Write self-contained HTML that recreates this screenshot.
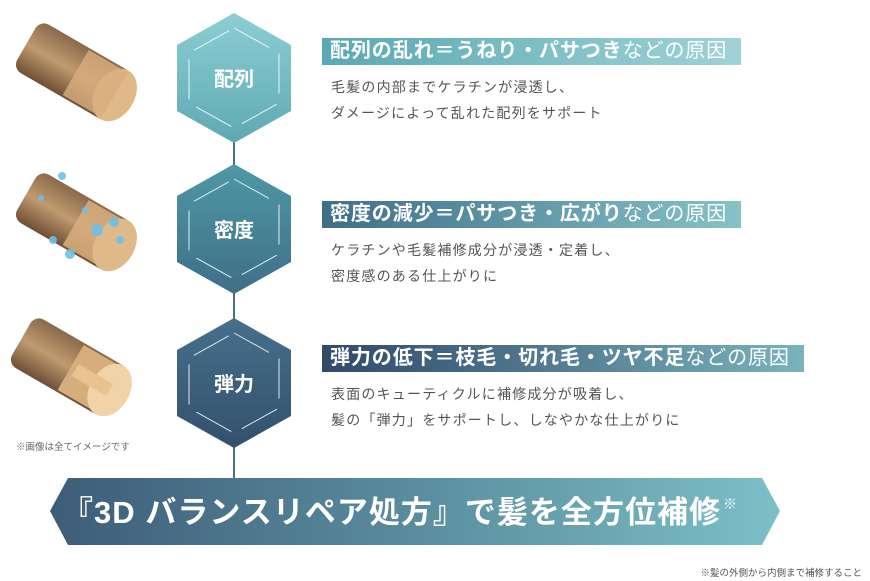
<!DOCTYPE html>
<html><head><meta charset="utf-8"><style>
body{margin:0;width:870px;height:581px;background:#fff;position:relative;overflow:hidden;font-family:"Liberation Sans","Noto Sans CJK JP",sans-serif}
.abs{position:absolute}
.bar{position:absolute;left:322px;height:27px;color:#fff;font-size:20px;font-weight:bold;line-height:27px;padding-left:8px;box-sizing:border-box;white-space:nowrap;letter-spacing:0.9px}
.bar span{font-weight:normal}
.body{position:absolute;left:331px;font-size:14px;color:#555;line-height:26px;letter-spacing:1.2px}
</style></head><body>
<svg class="abs" style="left:0;top:0" width="870" height="581">
<defs>
<linearGradient id="h1" x1="0" y1="0" x2="0" y2="1"><stop offset="0" stop-color="#8ccfd4"/><stop offset="1" stop-color="#5fa8b3"/></linearGradient>
<linearGradient id="h2" x1="0" y1="0" x2="0" y2="1"><stop offset="0" stop-color="#4e98a5"/><stop offset="1" stop-color="#3f6f88"/></linearGradient>
<linearGradient id="h3" x1="0" y1="0" x2="0" y2="1"><stop offset="0" stop-color="#46708c"/><stop offset="1" stop-color="#33506c"/></linearGradient>
<linearGradient id="bn" x1="0" y1="0" x2="1" y2="0"><stop offset="0" stop-color="#3d5c78"/><stop offset="0.5" stop-color="#5a8d9e"/><stop offset="1" stop-color="#7cc0c6"/></linearGradient>
<linearGradient id="b1" x1="0" y1="0" x2="1" y2="0"><stop offset="0" stop-color="#5aa8b3"/><stop offset="1" stop-color="#9fd3d7"/></linearGradient>
<linearGradient id="b2" x1="0" y1="0" x2="1" y2="0"><stop offset="0" stop-color="#3f6f88"/><stop offset="1" stop-color="#86c2c8"/></linearGradient>
<linearGradient id="b3" x1="0" y1="0" x2="1" y2="0"><stop offset="0" stop-color="#30496a"/><stop offset="1" stop-color="#79b3bc"/></linearGradient>
<linearGradient id="hair" x1="0" y1="0" x2="0" y2="1"><stop offset="0" stop-color="#8a6a4a"/><stop offset="0.5" stop-color="#c09a70"/><stop offset="1" stop-color="#6e5035"/></linearGradient>
</defs>
<line x1="234" y1="140" x2="234" y2="480" stroke="#4a7080" stroke-width="2"/>
<g>
<polygon points="234,13 291,45 291,111 234,143 177,111 177,45" fill="url(#h1)"/>
<polygon points="234,28 279,53 279,103 234,128 189,103 189,53" fill="none" stroke="#e8f6f7" stroke-width="1" stroke-dasharray="40 12"/>
<polygon points="234,164 291,196 291,262 234,294 177,262 177,196" fill="url(#h2)"/>
<polygon points="234,179 279,204 279,254 234,279 189,254 189,204" fill="none" stroke="#dfeff2" stroke-width="1" stroke-dasharray="40 12"/>
<polygon points="234,318 291,350 291,416 234,448 177,416 177,350" fill="url(#h3)"/>
<polygon points="234,333 279,358 279,408 234,433 189,408 189,358" fill="none" stroke="#dce8ef" stroke-width="1" stroke-dasharray="40 12"/>
</g>
<text x="234" y="86" font-size="20" fill="#fff" text-anchor="middle" font-weight="bold" font-family="Liberation Sans,Noto Sans CJK JP,sans-serif">配列</text>
<text x="234" y="237" font-size="20" fill="#fff" text-anchor="middle" font-weight="bold" font-family="Liberation Sans,Noto Sans CJK JP,sans-serif">密度</text>
<text x="234" y="391" font-size="20" fill="#fff" text-anchor="middle" font-weight="bold" font-family="Liberation Sans,Noto Sans CJK JP,sans-serif">弾力</text>
<rect x="322" y="38" width="419" height="27" fill="url(#b1)"/>
<rect x="322" y="201" width="419" height="27" fill="url(#b2)"/>
<rect x="322" y="345" width="482" height="27" fill="url(#b3)"/>
<polygon points="50,511 68,478 762,478 780,511 762,545 68,545" fill="url(#bn)"/>
<g transform="translate(80,75) rotate(30)">
<rect x="-62" y="-28" width="110" height="56" rx="10" fill="url(#hair)"/>
<ellipse cx="40" cy="0" rx="20" ry="28" fill="#e0b988"/>
<rect x="-5" y="-26" width="45" height="52" fill="#d8ae7e" opacity="0.8"/>
</g>
<g transform="translate(80,225) rotate(30)">
<rect x="-62" y="-28" width="110" height="56" rx="10" fill="url(#hair)"/>
<rect x="-5" y="-26" width="45" height="52" fill="#d8ae7e" opacity="0.85"/>
<ellipse cx="40" cy="0" rx="20" ry="28" fill="#e0b988"/>
</g>
<g fill="#6cc0ea" opacity="0.9">
<circle cx="62" cy="176" r="4"/><circle cx="53" cy="240" r="4"/><circle cx="70" cy="254" r="5"/><circle cx="97" cy="230" r="6"/><circle cx="114" cy="222" r="5"/><circle cx="41" cy="198" r="3"/><circle cx="120" cy="240" r="4"/><circle cx="85" cy="210" r="3"/>
</g>
<g transform="translate(75,370) rotate(30)">
<rect x="-62" y="-28" width="110" height="56" rx="10" fill="url(#hair)"/>
<rect x="-5" y="-26" width="45" height="52" fill="#d6ad7d"/>
<ellipse cx="40" cy="0" rx="20" ry="28" fill="#f0d3a6"/>
<rect x="0" y="-7" width="40" height="14" fill="#e8c38f"/>
</g>
<text x="16" y="450" font-size="9.5" fill="#666" font-family="Liberation Sans,Noto Sans CJK JP,sans-serif">※画像は全てイメージです</text>
<text x="862" y="576" font-size="9.5" fill="#555" text-anchor="end" font-family="Liberation Sans,Noto Sans CJK JP,sans-serif">※髪の外側から内側まで補修すること</text>
<text x="62" y="523" font-size="31" fill="#fff" font-weight="bold" font-family="Liberation Sans,Noto Sans CJK JP,sans-serif" textLength="658">『3D バランスリペア処方』で髪を全方位補修</text>
<text x="723" y="509" font-size="14" fill="#fff" font-family="Liberation Sans,Noto Sans CJK JP,sans-serif">※</text>
</svg>
<div class="bar" style="top:38px">配列の乱れ＝うねり・パサつき<span>などの原因</span></div>
<div class="body" style="top:74px">毛髪の内部までケラチンが浸透し、<br>ダメージによって乱れた配列をサポート</div>
<div class="bar" style="top:201px">密度の減少＝パサつき・広がり<span>などの原因</span></div>
<div class="body" style="top:237px">ケラチンや毛髪補修成分が浸透・定着し、<br>密度感のある仕上がりに</div>
<div class="bar" style="top:345px">弾力の低下＝枝毛・切れ毛・ツヤ不足<span>などの原因</span></div>
<div class="body" style="top:381px">表面のキューティクルに補修成分が吸着し、<br>髪の「弾力」をサポートし、しなやかな仕上がりに</div>
</body></html>
